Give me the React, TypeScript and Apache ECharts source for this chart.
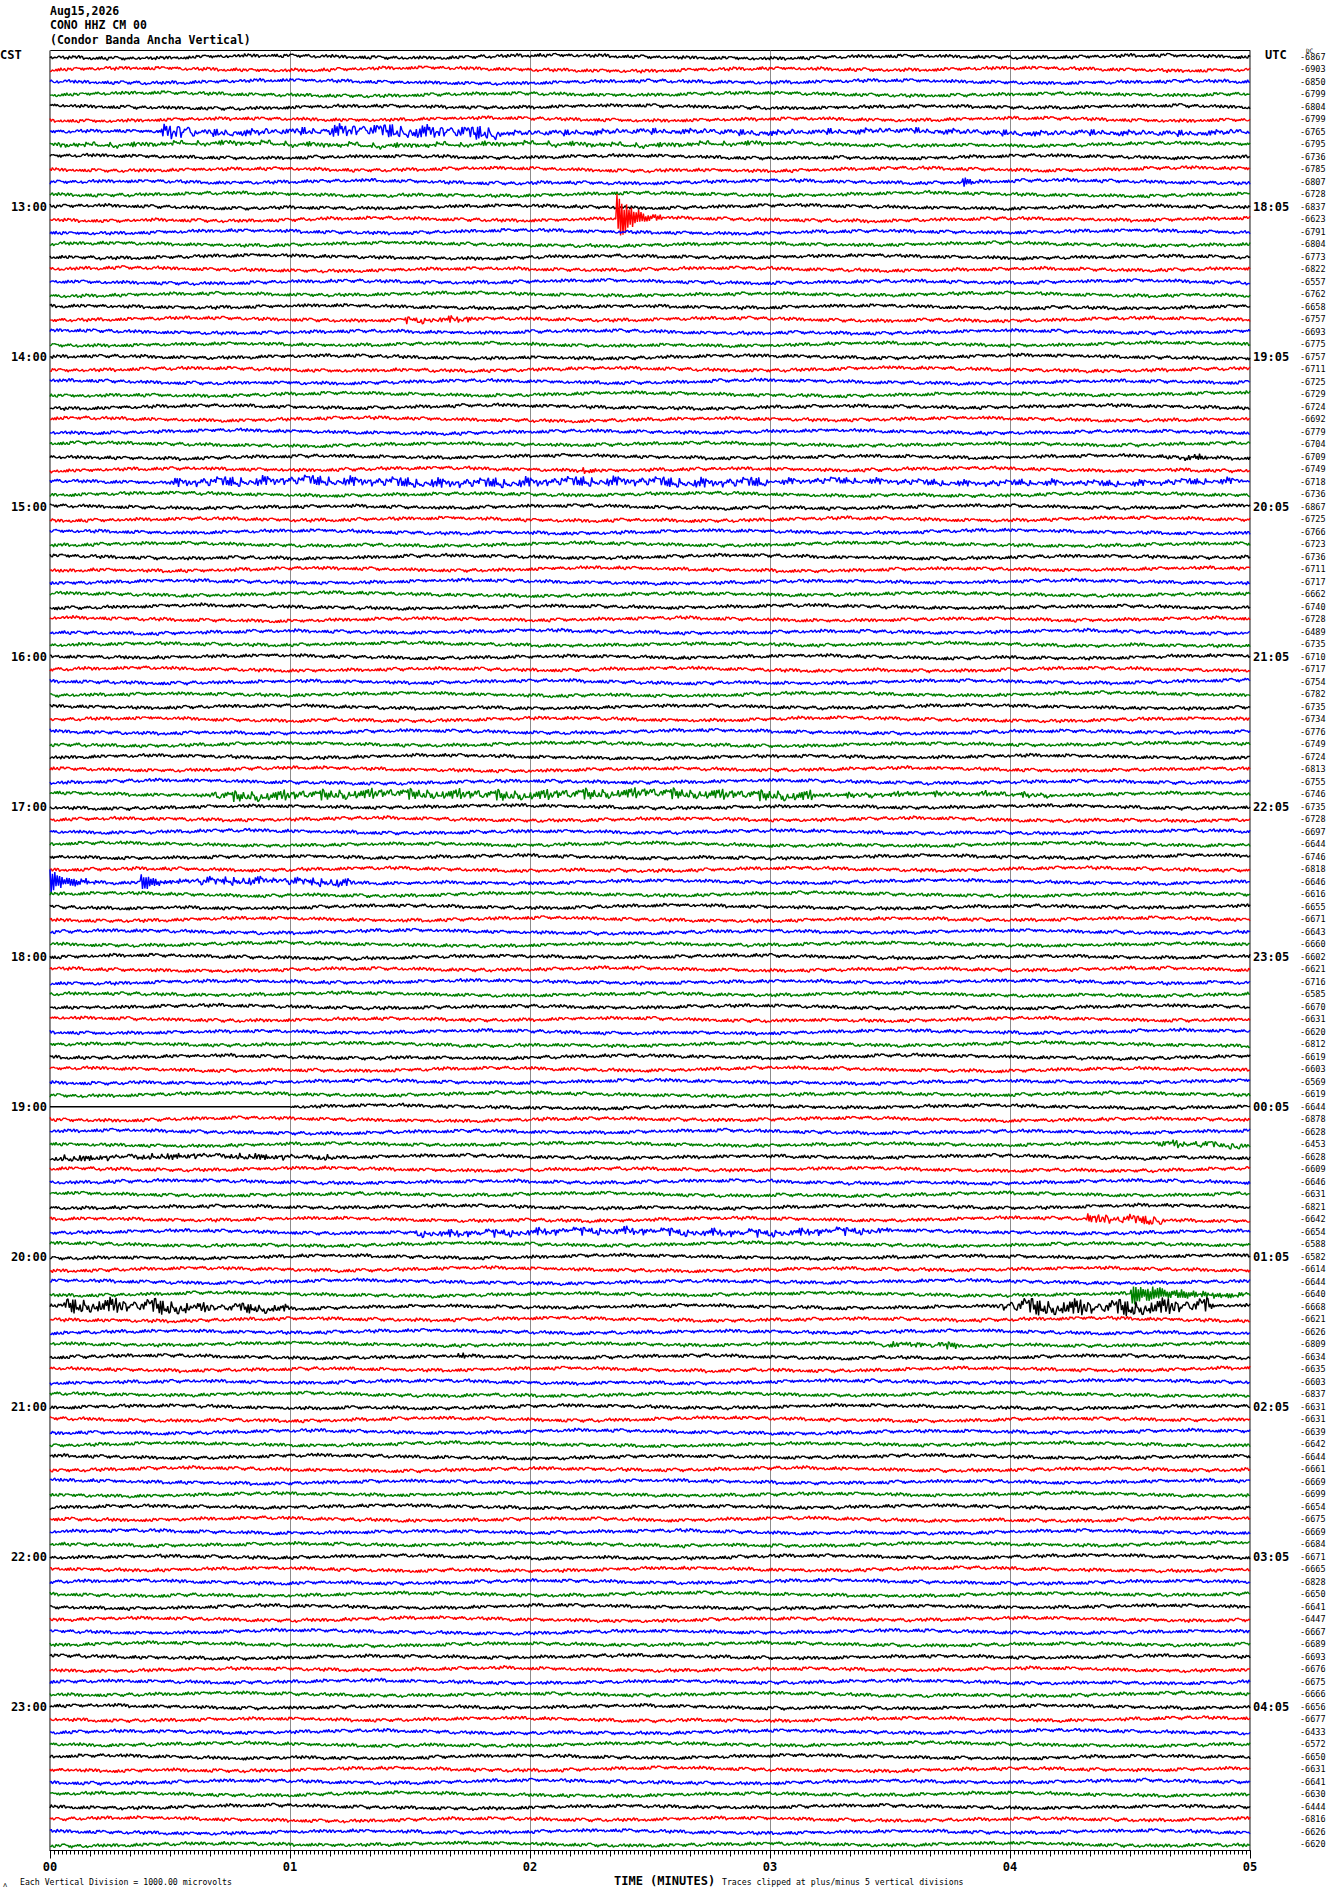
import React, { useEffect, useRef } from "react";
import * as echarts from "echarts";

// ---------- labels / values ----------
const traceColors = ["#000000", "#ff0000", "#0000ff", "#008000"];
const leftHourLabels = ["13:00", "14:00", "15:00", "16:00", "17:00", "18:00", "19:00", "20:00", "21:00", "22:00", "23:00"];
const rightHourLabels = ["18:05", "19:05", "20:05", "21:05", "22:05", "23:05", "00:05", "01:05", "02:05", "03:05", "04:05"];
const rightValues = [
  "-6867", "-6903", "-6850", "-6799", "-6804", "-6799", "-6765", "-6795", "-6736", "-6785", "-6807", "-6728",
  "-6837", "-6623", "-6791", "-6804", "-6773", "-6822", "-6557", "-6762", "-6658", "-6757", "-6693", "-6775",
  "-6757", "-6711", "-6725", "-6729", "-6724", "-6692", "-6779", "-6704", "-6709", "-6749", "-6718", "-6736",
  "-6867", "-6725", "-6766", "-6723", "-6736", "-6711", "-6717", "-6662", "-6740", "-6728", "-6489", "-6735",
  "-6710", "-6717", "-6754", "-6782", "-6735", "-6734", "-6776", "-6749", "-6724", "-6813", "-6755", "-6746",
  "-6735", "-6728", "-6697", "-6644", "-6746", "-6818", "-6646", "-6616", "-6655", "-6671", "-6643", "-6660",
  "-6602", "-6621", "-6716", "-6585", "-6670", "-6631", "-6620", "-6812", "-6619", "-6603", "-6569", "-6619",
  "-6644", "-6878", "-6628", "-6453", "-6628", "-6609", "-6646", "-6631", "-6821", "-6642", "-6654", "-6588",
  "-6582", "-6614", "-6644", "-6640", "-6668", "-6621", "-6626", "-6809", "-6634", "-6635", "-6603", "-6837",
  "-6631", "-6631", "-6639", "-6642", "-6644", "-6661", "-6669", "-6699", "-6654", "-6675", "-6669", "-6684",
  "-6671", "-6665", "-6828", "-6650", "-6641", "-6447", "-6667", "-6689", "-6693", "-6676", "-6675", "-6666",
  "-6656", "-6677", "-6433", "-6572", "-6650", "-6631", "-6641", "-6630", "-6444", "-6816", "-6626", "-6620",
];
const xTickLabels = ["00", "01", "02", "03", "04", "05"];

// hand-read background wiggle shapes (unitless, -1..1)
const fastWiggle = [0.3, -0.6, 0.8, -0.2, -0.9, 0.5, 0.1, -0.4, 0.7, -0.8, 0.2, 0.6, -0.3, -0.7, 0.9, -0.1, 0.4, -0.5, 0.0, 0.8,
  -0.6, 0.3, -0.9, 0.5, 0.2, -0.2, 0.7, -0.7, 0.1, 0.6, -0.4, -0.8, 0.9, 0.0, -0.3, 0.4, -0.6, 0.7, 0.2, -0.9, 0.5, -0.1, 0.3,
  -0.5, 0.8, -0.7, 0.1, 0.6, -0.2, -0.4, 0.9, -0.8, 0.0, 0.4, -0.3, 0.7, -0.6, 0.2, -0.1, 0.5, -0.9, 0.8, -0.4, 0.3, 0.1, -0.7,
  0.6, -0.2, -0.5, 0.9, -0.3, 0.0, 0.4];
const slowWiggle = [0.2, 0.5, 0.8, 0.6, 0.1, -0.4, -0.7, -0.5, -0.1, 0.3, 0.6, 0.4, -0.1, -0.6, -0.9, -0.6, -0.2, 0.2, 0.4, 0.7,
  0.9, 0.5, 0.0, -0.3, -0.5, -0.2, 0.1, 0.4, 0.2, -0.2, -0.6, -0.8, -0.4, 0.0, 0.3, 0.7, 0.5, 0.2, -0.1, -0.4, -0.3, 0.1, 0.5,
  0.3, -0.2, -0.5, -0.7, -0.3, 0.2, 0.6, 0.8];

// events: trace row, start/end minute, amplitude (trace-spacing units), kind
const eventRows = [6, 6, 6, 6, 7, 10, 13, 21, 32, 33, 34, 34, 59, 59, 66, 66, 66, 84, 87, 88, 93, 94, 99, 100, 100, 100, 103, 104];
const eventStart = [0.45, 0.62, 1.15, 1.9, 0.0, 3.8, 2.36, 1.45, 4.65, 2.22, 0.5, 3.0, 0.65, 3.2, 0.0, 0.38, 0.55, 0.0, 4.6, 0.0, 4.3, 1.5, 4.5, 0.05, 0.6, 3.95, 3.45, 1.7];
const eventEnd = [0.62, 1.15, 1.9, 5.0, 3.0, 3.88, 2.55, 1.78, 4.85, 2.3, 3.0, 5.0, 3.2, 4.2, 0.2, 0.55, 1.3, 1.0, 5.0, 1.2, 4.65, 3.5, 5.0, 0.6, 1.0, 4.85, 3.8, 1.78];
const eventAmp = [0.72, 0.28, 0.56, 0.2, 0.16, 0.64, 2.2, 0.24, 0.24, 0.24, 0.36, 0.2, 0.4, 0.16, 1.1, 0.72, 0.32, 0, 0.24, 0.2, 0.4, 0.28, 0.95, 0.6, 0.35, 0.64, 0.2, 0.32];
const eventKind = ["band", "band", "band", "band", "band", "quake", "quake", "band", "band", "quake", "band", "band", "band", "band", "quake", "quake", "band", "gap", "band", "band", "band", "band", "quake", "band", "band", "band", "band", "quake"];

const ROWS = 144;
const POINTS = 1000;
const FAST_AMP = 0.15;
const MID_AMP = 0.05;
const SLOW_AMP = 0.16;

function blend(arr: number[], pos: number) {
  const k = Math.floor(pos);
  const f = pos - k;
  const L = arr.length;
  return arr[k % L] * (1 - f) + arr[(k + 1) % L] * f;
}

function buildTrace(r: number) {
  const L = fastWiggle.length;
  const evs: number[] = [];
  for (let e = 0; e < eventRows.length; e++) if (eventRows[e] === r) evs.push(e);
  const data: number[][] = new Array(POINTS);
  for (let i = 0; i < POINTS; i++) {
    const t = (i * 5) / (POINTS - 1);
    let gap = false;
    let ev = 0;
    for (const e of evs) {
      const s = eventStart[e], en = eventEnd[e];
      if (t < s || t > en) continue;
      const kind = eventKind[e];
      if (kind === "gap") { gap = true; continue; }
      if (kind === "quake") {
        const tau = (en - s) / 2.5;
        const env = eventAmp[e] * Math.exp(-(t - s) / tau);
        const osc = (i % 2 ? 1 : -1) * (0.45 + 0.55 * Math.abs(fastWiggle[(i * 11 + r) % L]));
        ev += env * osc;
      } else {
        const taper = Math.min(1, (t - s) / 0.03, (en - t) / 0.03);
        ev += eventAmp[e] * Math.max(0, taper) * fastWiggle[(i * 13 + r * 7 + 3) % L];
      }
    }
    let y: number;
    if (gap) y = r;
    else {
      const fast = fastWiggle[(i * 7 + r * 19) % L];
      const mid = blend(fastWiggle, i / 6 + r * 5);
      const slow = blend(slowWiggle, i / 30 + r * 3.7);
      y = r + FAST_AMP * fast + MID_AMP * mid + SLOW_AMP * slow + ev;
    }
    data[i] = [t, y];
  }
  return data;
}

const MONO = "'DejaVu Sans Mono', 'Liberation Mono', monospace";

function buildOption() {
  const rowsIdx = Array.from({ length: ROWS }, (_, i) => String(i));
  const leftLabels = rowsIdx.map((_, i) => (i % 12 === 0 && i > 0 ? leftHourLabels[i / 12 - 1] : ""));
  const rightLabels = rowsIdx.map((_, i) => (i % 12 === 0 && i > 0 ? rightHourLabels[i / 12 - 1] : ""));

  const series: any[] = [];
  for (let r = 0; r < ROWS; r++) {
    series.push({
      type: "line",
      xAxisIndex: 0,
      yAxisIndex: 0,
      data: buildTrace(r),
      symbol: "none",
      showSymbol: false,
      silent: true,
      clip: true,
      lineStyle: { width: 1.4, color: traceColors[r % 4] },
      z: 3,
    });
  }

  const catAxis = (position: string, labels: string[], labelOpt: any) => ({
    type: "category",
    gridIndex: 0,
    position,
    inverse: true,
    data: labels,
    boundaryGap: true,
    axisLine: { show: false },
    axisTick: { show: false },
    splitLine: { show: false },
    axisLabel: { interval: 0, ...labelOpt },
  });

  const gridBox = { left: 50, top: 50.5, width: 1200, height: 1800, containLabel: false, outerBoundsMode: "none" };

  return {
    animation: false,
    backgroundColor: "#ffffff",
    grid: [
      { ...gridBox, show: true, borderColor: "#000000", borderWidth: 1, backgroundColor: "transparent" },
      { ...gridBox, show: false },
    ],
    xAxis: [
      {
        type: "value",
        gridIndex: 0,
        min: 0,
        max: 5,
        interval: 1,
        position: "bottom",
        axisLine: { show: true, onZero: false, lineStyle: { color: "#000", width: 1 } },
        axisTick: { show: true, length: 8, lineStyle: { color: "#000" } },
        minorTick: { show: true, splitNumber: 60, length: 4, lineStyle: { color: "#000" } },
        splitLine: { show: true, lineStyle: { color: "#8c8c8c", width: 1 } },
        axisLabel: {
          margin: 10,
          color: "#000",
          fontFamily: MONO,
          fontWeight: "bold",
          fontSize: 12,
          formatter: (v: number) => xTickLabels[Math.round(v)] ?? "",
        },
      },
      {
        type: "value",
        gridIndex: 1,
        min: 0,
        max: 5,
        interval: 1 / 6,
        position: "bottom",
        axisLine: { show: false, onZero: false },
        axisTick: { show: true, length: 6, lineStyle: { color: "#000" } },
        splitLine: { show: false },
        axisLabel: { show: false },
      },
    ],
    yAxis: [
      { type: "value", gridIndex: 0, show: false, min: -0.5, max: 143.5, inverse: true },
      catAxis("left", leftLabels, {
        margin: 3,
        color: "#000",
        fontFamily: MONO,
        fontWeight: "bold",
        fontSize: 12,
      }),
      catAxis("right", rightLabels, {
        margin: 3,
        color: "#000",
        fontFamily: MONO,
        fontWeight: "bold",
        fontSize: 12,
      }),
      catAxis("right", rightValues, {
        margin: 50,
        color: "#000",
        fontFamily: MONO,
        fontSize: 8.5,
      }),
      { type: "value", gridIndex: 1, show: false, min: 0, max: 1 },
    ],
    graphic: [
      { type: "text", left: 50, top: 5, style: { text: "Aug15,2026", font: `bold 11.5px ${MONO}`, fill: "#000" } },
      { type: "text", left: 50, top: 19, style: { text: "CONO HHZ CM 00", font: `bold 11.5px ${MONO}`, fill: "#000" } },
      { type: "text", left: 50, top: 34, style: { text: "(Condor Banda Ancha Vertical)", font: `bold 11.5px ${MONO}`, fill: "#000" } },
      { type: "text", left: 0, top: 49, style: { text: "CST", font: `bold 12px ${MONO}`, fill: "#000" } },
      { type: "text", left: 1265, top: 49, style: { text: "UTC", font: `bold 12px ${MONO}`, fill: "#000" } },
      { type: "text", left: 1306, top: 47, style: { text: "DC", font: `6px ${MONO}`, fill: "#000" } },
      { type: "text", left: 614, top: 1875, style: { text: "TIME (MINUTES)", font: `bold 12px ${MONO}`, fill: "#000" } },
      { type: "text", left: 722, top: 1878, style: { text: "Traces clipped at plus/minus 5 vertical divisions", font: `8.2px ${MONO}`, fill: "#000" } },
      { type: "text", left: 20, top: 1878, style: { text: "Each Vertical Division = 1000.00 microvolts", font: `8.2px ${MONO}`, fill: "#000" } },
      { type: "text", left: 3, top: 1881, style: { text: "ʌ", font: `7px ${MONO}`, fill: "#000" } },
    ],
    series,
  };
}

export default function App() {
  const ref = useRef<HTMLDivElement | null>(null);
  useEffect(() => {
    document.body.style.margin = "0";
    const chart = echarts.init(ref.current as HTMLDivElement, null, { renderer: "svg" });
    chart.setOption(buildOption() as any);
    return () => chart.dispose();
  }, []);
  return (
    <div
      ref={ref}
      style={{ position: "absolute", left: 0, top: 0, width: 1330, height: 1894, background: "#fff" }}
    />
  );
}
